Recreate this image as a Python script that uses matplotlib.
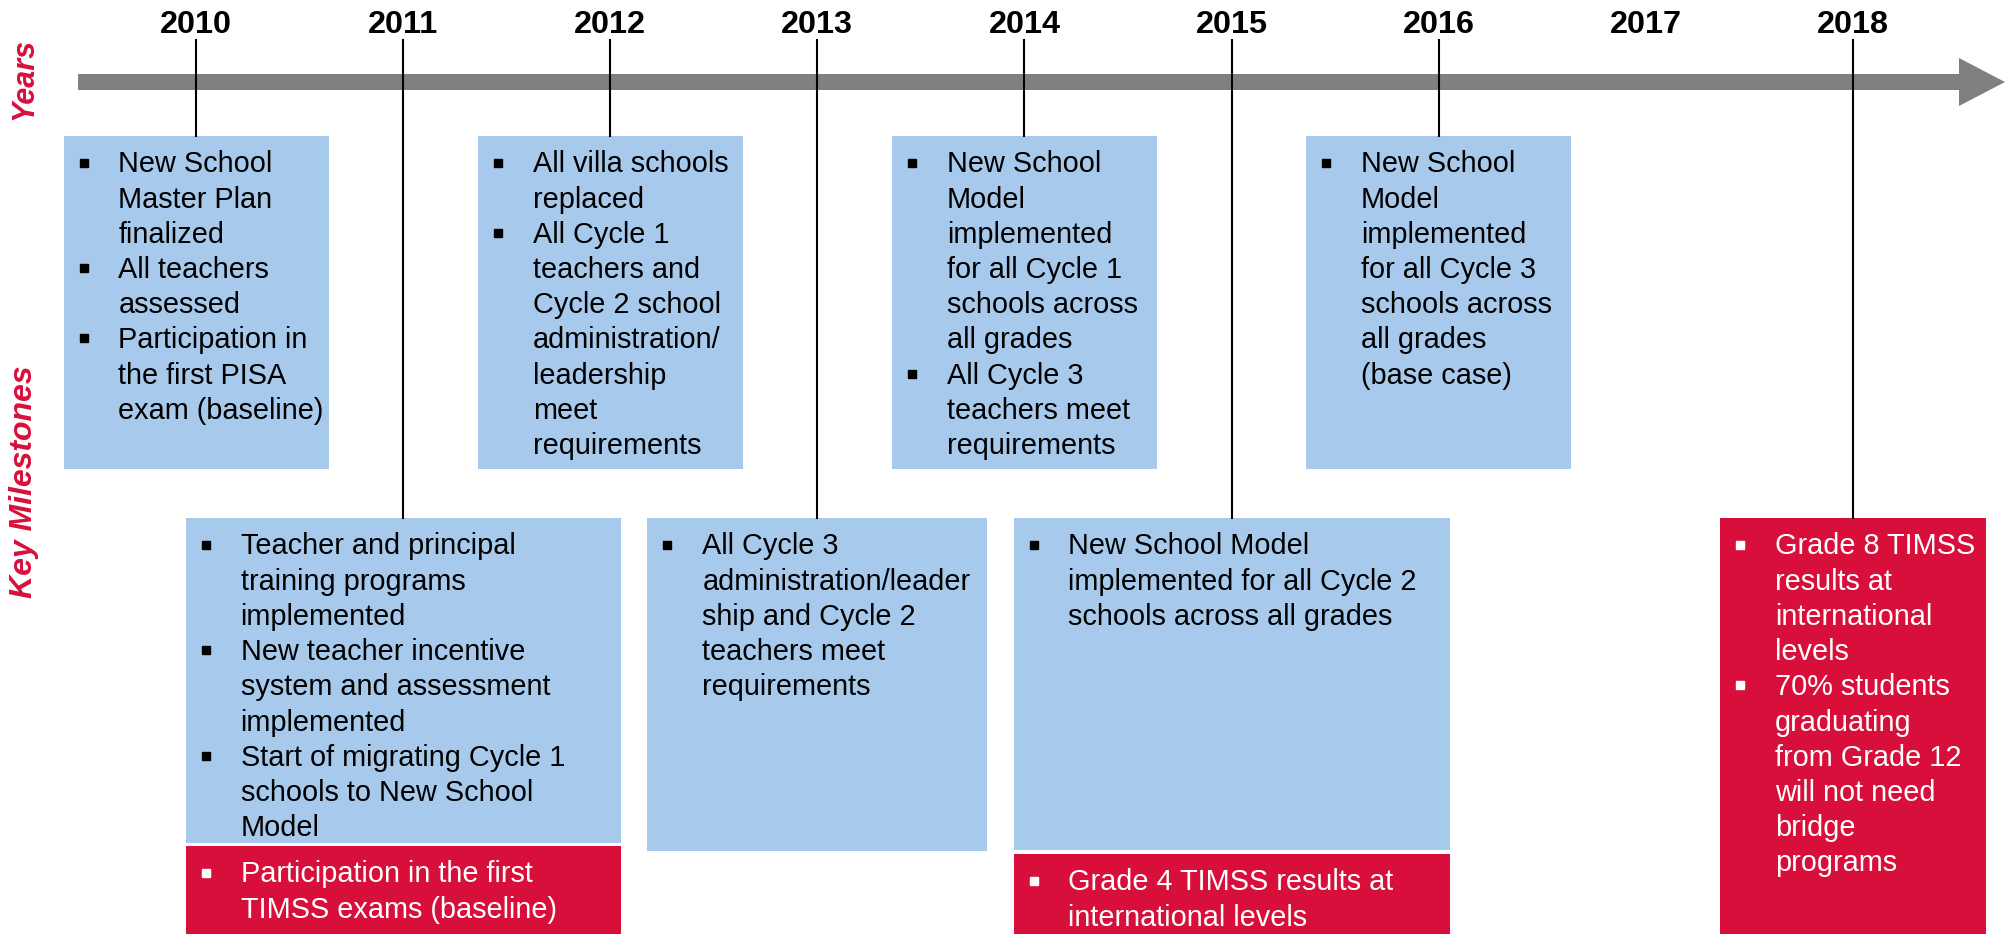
import matplotlib
matplotlib.use("Agg")
import matplotlib.pyplot as plt
from matplotlib.patches import Rectangle, Polygon

# ---- data ----
years = [2010, 2011, 2012, 2013, 2014, 2015, 2016, 2017, 2018]
marked_years = [2010, 2011, 2012, 2013, 2014, 2015, 2016, 2018]

top_years = [2010, 2012, 2014, 2016]
top_items = [
    [["New School", "Master Plan", "finalized"],
     ["All teachers", "assessed"],
     ["Participation in", "the first PISA", "exam (baseline)"]],
    [["All villa schools", "replaced"],
     ["All Cycle 1", "teachers and", "Cycle 2 school", "administration/",
      "leadership", "meet", "requirements"]],
    [["New School", "Model", "implemented", "for all Cycle 1",
      "schools across", "all grades"],
     ["All Cycle 3", "teachers meet", "requirements"]],
    [["New School", "Model", "implemented", "for all Cycle 3",
      "schools across", "all grades", "(base case)"]],
]

bottom_years = [2011, 2013, 2015, 2018]
bottom_blue_items = [
    [["Teacher and principal", "training programs", "implemented"],
     ["New teacher incentive", "system and assessment", "implemented"],
     ["Start of migrating Cycle 1", "schools to New School", "Model"]],
    [["All Cycle 3", "administration/leader", "ship and Cycle 2",
      "teachers meet", "requirements"]],
    [["New School Model", "implemented for all Cycle 2",
      "schools across all grades"]],
    [],
]
bottom_red_items = [
    [["Participation in the first", "TIMSS exams (baseline)"]],
    [],
    [["Grade 4 TIMSS results at", "international levels"]],
    [["Grade 8 TIMSS", "results at", "international", "levels"],
     ["70% students", "graduating", "from Grade 12", "will not need",
      "bridge", "programs"]],
]

row_labels = ["Years", "Key Milestones"]

# ---- layout / style ----
W, H = 2005, 934
PX = 207.1      # pixels per year
X0 = 196        # pixel column of 2010
BLUE = "#A7CAEC"
RED = "#D80F3B"
GREY = "#808080"
FONT = ["Liberation Sans", "DejaVu Sans"]
plt.rcParams["font.family"] = FONT

top_w = 265
bottom_w = [435, 340, 436, 266]
top_span = (136, 469)
blue_bottom = [843, 851, 850, None]
red_top = [846, None, 854, 518]
bottom_top = 518
pitch = 35.2


def xp(p):
    return 2010 + (p - X0) / PX


def dx(p):
    return p / PX


fig = plt.figure(figsize=(W / 100, H / 100), dpi=100)
ax = fig.add_axes([0, 0, 1, 1])
ax.set_xlim(xp(0), xp(W))
ax.set_ylim(H, 0)
ax.axis("off")

# timeline arrow
shaft_l, head_l, tip = xp(78), xp(1959), xp(W)
cy, half, head = 82, 8, 24
ax.add_patch(Polygon([(shaft_l, cy - half), (head_l, cy - half), (head_l, cy - head),
                      (tip, cy), (head_l, cy + head), (head_l, cy + half),
                      (shaft_l, cy + half)], closed=True, color=GREY, lw=0, zorder=1))

# year labels
for y in years:
    ax.text(y, 33, str(y), ha="center", va="baseline", fontsize=23.3,
            fontweight="bold", color="black")


def draw_box(year, width, top, bottom, color, items, tcol):
    left = year - dx(width) / 2
    ax.add_patch(Rectangle((left, top), dx(width), bottom - top,
                           facecolor=color, edgecolor="none", zorder=2))
    base = top + 36.5
    for item in items:
        ax.plot(left + dx(20), base - 10, "s", ms=6.2, color=tcol, zorder=3)
        for line in item:
            ax.text(left + dx(55), base, line, ha="left", va="baseline",
                    fontsize=20.8, color=tcol, zorder=3)
            base += pitch


for yr, items in zip(top_years, top_items):
    draw_box(yr, top_w, top_span[0], top_span[1], BLUE, items, "black")

for i, yr in enumerate(bottom_years):
    if blue_bottom[i] is not None:
        draw_box(yr, bottom_w[i], bottom_top, blue_bottom[i], BLUE,
                 bottom_blue_items[i], "black")
    if red_top[i] is not None:
        draw_box(yr, bottom_w[i], red_top[i], H, RED,
                 bottom_red_items[i], "white")

# connector lines
for y in marked_years:
    end = top_span[0] if y in top_years else bottom_top
    ax.plot([y, y], [40, end], color="black", lw=1.5, zorder=4)

# row labels
ax.text(xp(24), 79, row_labels[0], rotation=90, ha="center", va="center",
        fontsize=22, fontweight="bold", fontstyle="italic", color=RED)
ax.text(xp(24), 482, row_labels[1], rotation=90, ha="center", va="center",
        fontsize=23, fontweight="bold", fontstyle="italic", color=RED)

fig.savefig("out.png", dpi=100)
